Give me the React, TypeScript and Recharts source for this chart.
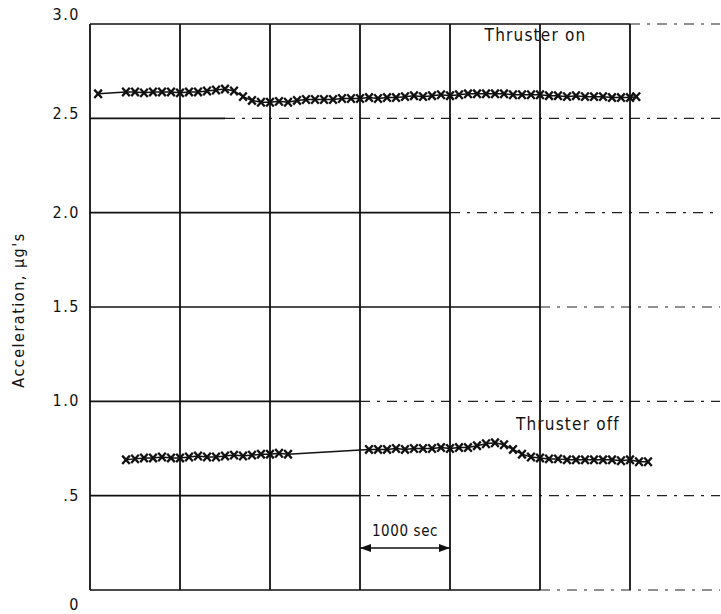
import React from 'react';
import { ComposedChart, Line, XAxis, YAxis, ReferenceLine, ReferenceDot } from 'recharts';

// time in seconds, acceleration in micro-g
const onTimes = [90, 400, 500, 600, 700, 800, 900, 1000, 1100, 1200, 1300, 1400, 1500, 1600, 1700, 1800, 1900, 2000, 2100, 2200, 2300, 2400, 2500, 2600, 2700, 2800, 2900, 3000, 3100, 3200, 3300, 3400, 3500, 3600, 3700, 3800, 3900, 4000, 4100, 4200, 4300, 4400, 4500, 4600, 4700, 4800, 4900, 5000, 5100, 5200, 5300, 5400, 5500, 5600, 5700, 5800, 5900, 6000, 6070];
const onValues = [2.63, 2.64, 2.64, 2.635, 2.64, 2.64, 2.64, 2.635, 2.64, 2.64, 2.645, 2.65, 2.655, 2.645, 2.615, 2.595, 2.585, 2.585, 2.59, 2.585, 2.595, 2.6, 2.6, 2.6, 2.6, 2.605, 2.605, 2.605, 2.61, 2.605, 2.61, 2.61, 2.615, 2.62, 2.615, 2.62, 2.625, 2.62, 2.625, 2.63, 2.63, 2.63, 2.63, 2.63, 2.625, 2.625, 2.625, 2.625, 2.62, 2.62, 2.615, 2.62, 2.615, 2.615, 2.615, 2.61, 2.61, 2.61, 2.615];

const offTimes = [400, 500, 600, 700, 800, 900, 1000, 1100, 1200, 1300, 1400, 1500, 1600, 1700, 1800, 1900, 2000, 2100, 2200, 3100, 3200, 3300, 3400, 3500, 3600, 3700, 3800, 3900, 4000, 4100, 4200, 4300, 4400, 4500, 4600, 4700, 4800, 4900, 5000, 5100, 5200, 5300, 5400, 5500, 5600, 5700, 5800, 5900, 6000, 6100, 6200];
const offValues = [0.69, 0.695, 0.7, 0.7, 0.705, 0.7, 0.7, 0.705, 0.71, 0.705, 0.705, 0.71, 0.715, 0.71, 0.715, 0.72, 0.72, 0.725, 0.72, 0.745, 0.745, 0.745, 0.75, 0.745, 0.75, 0.75, 0.75, 0.755, 0.75, 0.755, 0.755, 0.765, 0.775, 0.78, 0.77, 0.745, 0.72, 0.705, 0.7, 0.695, 0.695, 0.69, 0.69, 0.69, 0.69, 0.69, 0.69, 0.685, 0.69, 0.68, 0.68];

const yTicks = [0, 0.5, 1, 1.5, 2, 2.5, 3];
const yTickLabels = ['0', '.5', '1.0', '1.5', '2.0', '2.5', '3.0'];
const xGridTimes = [0, 1000, 2000, 3000, 4000, 5000, 6000];
// where each horizontal grid line turns from solid to dash-dot
const hGridBreaks = [5000, 3000, 3000, 5000, 4000, 1500, 6000];

const onData = onTimes.map((t, i) => ({ t, v: onValues[i] }));
const offData = offTimes.map((t, i) => ({ t, v: offValues[i] }));

const FONT = '"Liberation Sans Narrow", "DejaVu Sans Condensed", "Roboto Condensed", "Liberation Sans", sans-serif';

const XMark = (props: any) => {
  const { cx, cy, index } = props;
  if (cx == null || cy == null) return <g key={`n${index}`} />;
  return (
    <g key={`m${index}`}>
      <line x1={cx - 3.8} y1={cy - 4.2} x2={cx + 3.8} y2={cy + 4.2} stroke="#111" strokeWidth={2.3} />
      <line x1={cx + 3.8} y1={cy - 4.2} x2={cx - 3.8} y2={cy + 4.2} stroke="#111" strokeWidth={2.3} />
    </g>
  );
};

const YTick = (props: any) => {
  const { x, y, payload } = props;
  const v = payload.value;
  const idx = yTicks.indexOf(v);
  let dy = 5;
  if (v === 3) dy = -4;
  if (v === 2.5) dy = 1;
  if (v === 0) dy = 20;
  return (
    <text x={x} y={y + dy} textAnchor="end" fill="#111" fontSize={16} letterSpacing={1.5} fontFamily={FONT}>
      {idx >= 0 ? yTickLabels[idx] : String(v)}
    </text>
  );
};

const ArrowShape = (props: any) => {
  const { x1, y1, x2, y2 } = props;
  if (x1 == null) return <g />;
  return (
    <g>
      <line x1={x1} y1={y1} x2={x2} y2={y2} stroke="#111" strokeWidth={1.5} />
      <polygon points={`${x1},${y1} ${x1 + 11},${y1 - 4} ${x1 + 11},${y1 + 4}`} fill="#111" />
      <polygon points={`${x2},${y2} ${x2 - 11},${y2 - 4} ${x2 - 11},${y2 + 4}`} fill="#111" />
      <text x={(x1 + x2) / 2} y={y1 - 12} textAnchor="middle" fill="#111" fontSize={15} letterSpacing={0.6} fontFamily={FONT}>1000 sec</text>
    </g>
  );
};

export default function App() {
  return (
    <div style={{ position: 'absolute', left: 0, top: 0, width: 721, height: 614, background: '#fff' }}>
      <ComposedChart width={721} height={614} margin={{ top: 24, right: 1, bottom: 24, left: 0 }}>
        <XAxis type="number" dataKey="t" domain={[0, 7000]} hide allowDataOverflow />
        <YAxis
          type="number"
          domain={[0, 3]}
          ticks={yTicks}
          width={90}
          axisLine={false}
          tickLine={false}
          tickSize={0}
          tickMargin={10}
          tick={<YTick />}
          allowDataOverflow
        />
        {yTicks.map((v, i) => (
          <ReferenceLine key={`hs${i}`} segment={[{ x: 0, y: v }, { x: hGridBreaks[i], y: v }]} stroke="#111" strokeWidth={1.6} />
        ))}
        {yTicks.map((v, i) => (
          <ReferenceLine key={`hd${i}`} segment={[{ x: hGridBreaks[i], y: v }, { x: 7000, y: v }]} stroke="#222" strokeWidth={1.2} strokeDasharray="10 7 3 7" />
        ))}
        {xGridTimes.map((t) => (
          <ReferenceLine key={`v${t}`} x={t} stroke="#111" strokeWidth={1.8} />
        ))}
        <Line data={onData} dataKey="v" type="linear" stroke="#111" strokeWidth={1.5} dot={XMark} activeDot={false} isAnimationActive={false} />
        <Line data={offData} dataKey="v" type="linear" stroke="#111" strokeWidth={1.5} dot={XMark} activeDot={false} isAnimationActive={false} />
        <ReferenceLine segment={[{ x: 3000, y: 0.223 }, { x: 4000, y: 0.223 }]} shape={ArrowShape} />
        <ReferenceDot x={4950} y={2.94} r={0} stroke="none" fill="none" label={{ value: 'Thruster on', position: 'center', fill: '#111', fontSize: 17, letterSpacing: 1.2, fontFamily: FONT }} />
        <ReferenceDot x={5310} y={0.88} r={0} stroke="none" fill="none" label={{ value: 'Thruster off', position: 'center', fill: '#111', fontSize: 17, letterSpacing: 1.2, fontFamily: FONT }} />
      </ComposedChart>
      <div style={{ position: 'absolute', left: 18, top: 310, transform: 'translate(-50%, -50%) rotate(-90deg)', whiteSpace: 'nowrap', fontFamily: FONT, fontSize: 16, letterSpacing: 1.5, color: '#111' }}>
        Acceleration, μg's
      </div>
    </div>
  );
}
